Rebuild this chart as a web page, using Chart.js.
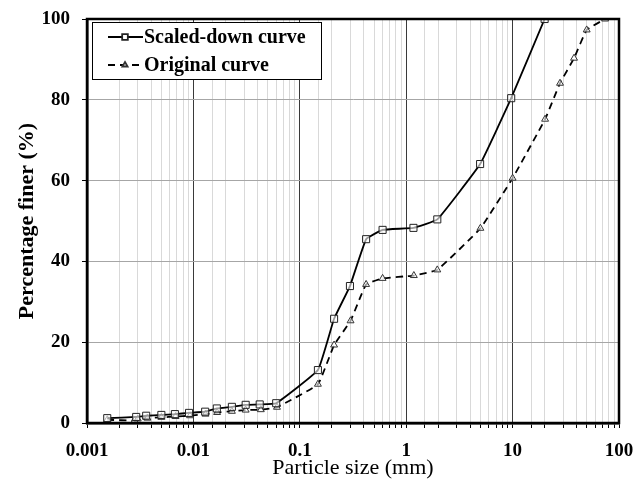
<!DOCTYPE html>
<html>
<head>
<meta charset="utf-8">
<script src="https://cdn.jsdelivr.net/npm/chart.js@4/dist/chart.umd.min.js"></script>
<style>
  html, body { margin: 0; padding: 0; background: #fff; }
  #wrap { position: relative; width: 644px; height: 484px; }
</style>
</head>
<body>
<div id="wrap"><canvas id="chart"></canvas></div>
<script>
// grain size distribution
const scaledSize = [0.00155, 0.0029, 0.0036, 0.005, 0.0067, 0.0091, 0.0129, 0.0166, 0.023, 0.031, 0.042, 0.06, 0.148, 0.21, 0.296, 0.42, 0.6, 1.17, 1.96, 4.95, 9.7, 20];
const scaledFiner = [1.2, 1.5, 1.8, 2.0, 2.2, 2.5, 2.8, 3.6, 4.0, 4.5, 4.6, 4.9, 13.1, 25.8, 33.9, 45.5, 47.8, 48.3, 50.4, 64.1, 80.4, 100];

const originalSize = [0.00155, 0.0028, 0.003, 0.0037, 0.005, 0.0068, 0.0093, 0.013, 0.0167, 0.023, 0.031, 0.043, 0.061, 0.148, 0.21, 0.3, 0.42, 0.6, 1.18, 1.96, 4.98, 10, 20.2, 27.9, 37.8, 49.7, 74];
const originalFiner = [0.8, 0.6, 1.0, 1.2, 1.4, 1.6, 1.8, 2.2, 2.6, 2.9, 3.2, 3.3, 3.9, 9.6, 19.3, 25.3, 34.3, 35.8, 36.5, 37.9, 48.2, 60.6, 75.2, 84.1, 90.3, 97.3, 100];

const xTickLabels = ["0.001", "0.01", "0.1", "1", "10", "100"];
const yTicks = [0, 20, 40, 60, 80, 100];

const serif = "'Liberation Serif', 'Times New Roman', serif";

function isDecade(v) {
  const l = Math.log10(v);
  return Math.abs(l - Math.round(l)) < 1e-6;
}

// legend drawn as a boxed key inside the plot, like the original
const boxLegend = {
  id: "boxLegend",
  afterDraw(chart) {
    const ctx = chart.ctx;
    const x0 = 92, y0 = 22, w = 229, h = 57;
    ctx.save();
    ctx.fillStyle = "#fff";
    ctx.fillRect(x0, y0, w, h);
    ctx.strokeStyle = "#000";
    ctx.lineWidth = 1;
    ctx.strokeRect(x0 + 0.5, y0 + 0.5, w, h);
    chart.data.datasets.forEach((ds, i) => {
      const cy = y0 + 15 + i * 28;
      ctx.beginPath();
      ctx.setLineDash(ds.borderDash || []);
      ctx.strokeStyle = ds.borderColor;
      ctx.lineWidth = ds.borderWidth;
      ctx.moveTo(x0 + 16, cy);
      ctx.lineTo(x0 + 51, cy);
      ctx.stroke();
      ctx.setLineDash([]);
      ctx.strokeStyle = ds.pointBorderColor;
      ctx.fillStyle = "#fff";
      Chart.helpers.drawPoint(ctx, {
        pointStyle: ds.pointStyle,
        radius: ds.pointRadius - 1,
        borderWidth: 1
      }, x0 + 33, cy);
      ctx.fillStyle = "#000";
      ctx.font = "bold 20px " + serif;
      ctx.textBaseline = "middle";
      ctx.fillText(ds.label, x0 + 52, cy + 1);
    });
    ctx.restore();
  }
};

// thick frame round the plot area
const frame = {
  id: "frame",
  afterDatasetsDraw(chart) {
    const a = chart.chartArea;
    const ctx = chart.ctx;
    ctx.save();
    ctx.strokeStyle = "#000";
    ctx.lineWidth = 2.5;
    ctx.strokeRect(a.left, a.top, a.right - a.left, a.bottom - a.top);
    ctx.restore();
  }
};

const ctx = document.getElementById("chart").getContext("2d");
new Chart(ctx, {
  type: "line",
  data: {
    datasets: [
      {
        label: "Scaled-down curve",
        data: scaledSize.map((s, i) => ({ x: s, y: scaledFiner[i] })),
        borderColor: "#000",
        borderWidth: 1.8,
        pointStyle: "rect",
        pointRadius: 5,
        pointBorderWidth: 1,
        pointBorderColor: "#222",
        pointBackgroundColor: "rgba(255,255,255,0.6)",
        tension: 0.1
      },
      {
        label: "Original curve",
        data: originalSize.map((s, i) => ({ x: s, y: originalFiner[i] })),
        borderColor: "#000",
        borderWidth: 1.8,
        borderDash: [7, 5],
        pointStyle: "triangle",
        pointRadius: 4,
        pointBorderWidth: 1,
        pointBorderColor: "#333",
        pointBackgroundColor: "rgba(255,255,255,0.6)",
        tension: 0.1
      }
    ]
  },
  options: {
    responsive: true,
    maintainAspectRatio: false,
    animation: false,
    layout: { padding: { top: 19, right: 25, left: 0, bottom: 0 } },
    plugins: {
      legend: { display: false },
      tooltip: { enabled: false }
    },
    scales: {
      x: {
        type: "logarithmic",
        min: 0.001,
        max: 100,
        // pin the plot box so it lines up with the original
        afterFit: (s) => { s.height = 61; s.paddingLeft = 0; s.paddingRight = 0; },
        border: { display: true, color: "#000", width: 2.5 },
        grid: {
          color: (c) => (c.tick && isDecade(c.tick.value) ? "#3a3a3a" : "#d9d9d9"),
          lineWidth: 1,
          tickColor: "#000",
          tickLength: 5
        },
        ticks: {
          autoSkip: false,
          maxRotation: 0,
          padding: 12,
          color: "#000",
          font: { family: serif, size: 19, weight: "bold" },
          callback: (v) => (isDecade(v) ? xTickLabels[Math.round(Math.log10(v)) + 3] : "")
        },
        title: {
          display: true,
          text: "Particle size (mm)",
          color: "#000",
          font: { family: serif, size: 22 },
          padding: { top: 0, bottom: 3 }
        }
      },
      y: {
        min: 0,
        max: 100,
        afterFit: (s) => { s.width = 87; s.paddingTop = 0; s.paddingBottom = 0; },
        afterBuildTicks: (s) => { s.ticks = yTicks.map((v) => ({ value: v })); },
        border: { display: true, color: "#000", width: 2.5 },
        grid: {
          color: "#a6a6a6",
          lineWidth: 1,
          tickColor: "#000",
          tickLength: 5
        },
        ticks: {
          padding: 12,
          color: "#000",
          font: { family: serif, size: 19, weight: "bold" }
        },
        title: {
          display: true,
          text: "Percentage finer (%)",
          color: "#000",
          font: { family: serif, size: 22, weight: "bold" },
          padding: { top: 14, bottom: 0 }
        }
      }
    }
  },
  plugins: [frame, boxLegend]
});
</script>
</body>
</html>
